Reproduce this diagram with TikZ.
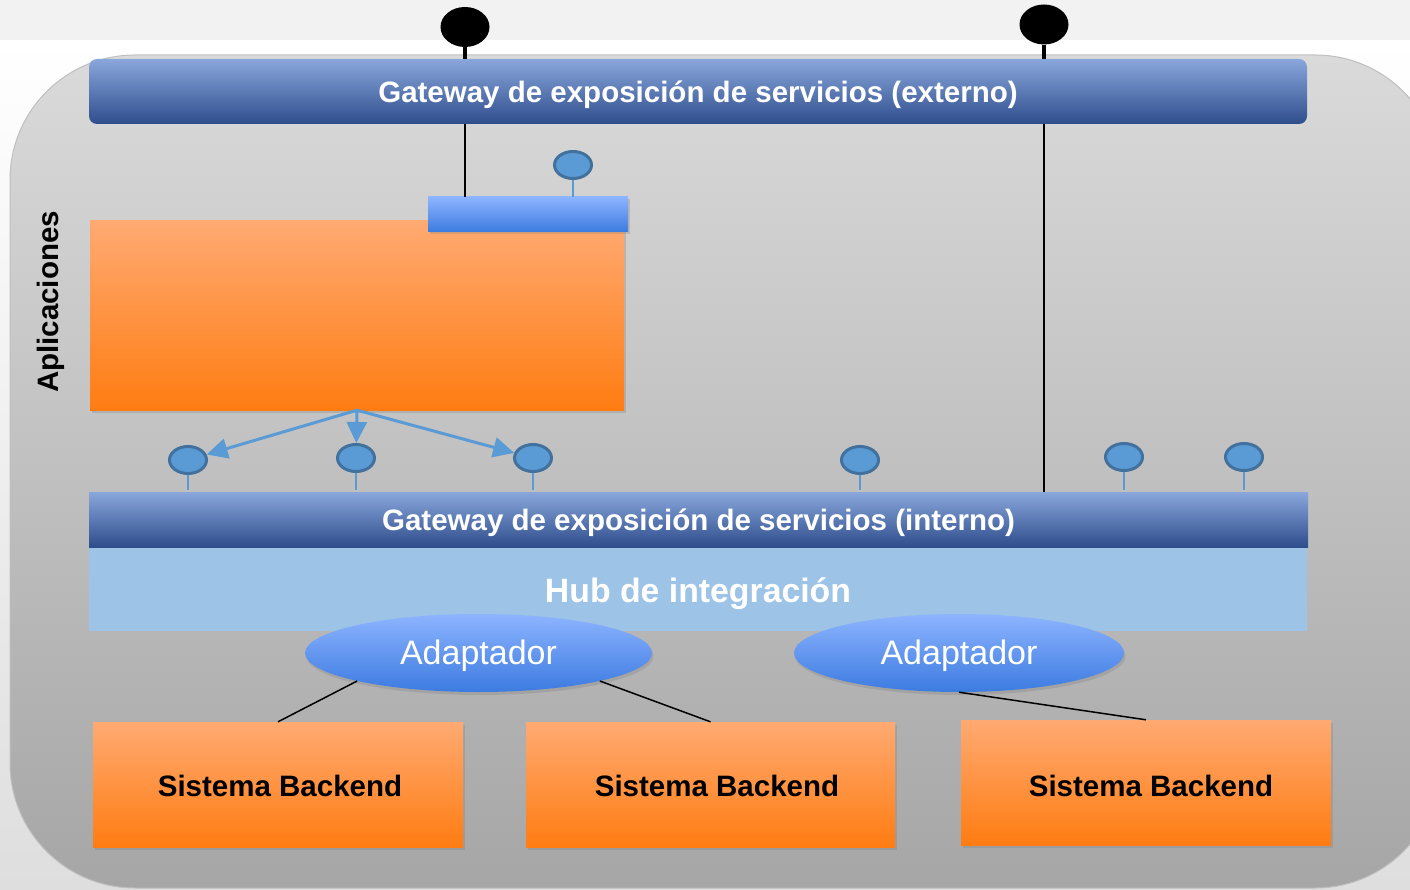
\documentclass[tikz,border=0pt]{standalone}
\usepackage{fontspec}
\setmainfont{Liberation Sans}
\usetikzlibrary{shapes.geometric,arrows.meta,shadows}

\definecolor{bandgray}{HTML}{F2F2F2}
\definecolor{pagelow}{HTML}{DEDEDE}
\definecolor{frameTop}{HTML}{DADADA}
\definecolor{frameMid}{HTML}{CECECE}
\definecolor{frameBot}{HTML}{A6A6A6}
\definecolor{gwTop}{HTML}{8AA7DC}
\definecolor{gwMid}{HTML}{4874C4}
\definecolor{gwBot}{HTML}{2E4D8C}
\definecolor{hubfill}{HTML}{9DC3E6}
\definecolor{orTop}{HTML}{FFAA72}
\definecolor{orBot}{HTML}{FF7C12}
\definecolor{ltTop}{HTML}{8DB4FF}
\definecolor{ltBot}{HTML}{3C7BE0}
\definecolor{pinfill}{HTML}{5B9BD5}
\definecolor{pinline}{HTML}{41719C}

\tikzset{
  gateway/.style={rectangle, inner sep=0pt, top color=gwTop, middle color=gwMid,
    bottom color=gwBot, text=white, font=\bfseries\fontsize{29.5}{32}\selectfont,
    text depth=0pt},
  orangebox/.style={rectangle, inner sep=0pt, top color=orTop, bottom color=orBot,
    drop shadow={shadow xshift=1.5pt, shadow yshift=-2.5pt, opacity=0.3}},
  backend/.style={orangebox, minimum width=370, minimum height=125,
    font=\bfseries\fontsize{29.5}{32}\selectfont, text depth=0pt, text height=24pt},
  adapter/.style={ellipse, inner sep=0pt, minimum height=78, top color=ltTop,
    bottom color=ltBot, text=white, font=\fontsize{34}{38}\selectfont,
    text depth=0pt, text height=22pt,
    drop shadow={shadow xshift=1.5pt, shadow yshift=-3pt, opacity=0.3}},
  pin/.style={ellipse, inner sep=0pt, minimum width=37, minimum height=27,
    fill=pinfill, draw=pinline, line width=3pt},
  pinstem/.style={draw=pinfill, line width=1.5pt},
  extpin/.style={ellipse, inner sep=0pt, minimum width=49, minimum height=40, fill=black},
  link/.style={draw=black, line width=1.5pt},
  call/.style={draw=pinfill, line width=3pt, -{Triangle[length=21pt,width=20pt]}}
}

\begin{document}
\begin{tikzpicture}[x=1pt,y=-1pt]
\useasboundingbox (0,0) rectangle (1410,890);
\clip (0,0) rectangle (1410,890);

% page background
\shade[top color=white, bottom color=pagelow] (0,40) rectangle (1410,890);
\fill[bandgray] (0,0) rectangle (1410,40);

% application frame
\shade[rounded corners=125, top color=frameTop, middle color=frameMid,
  bottom color=frameBot, draw=black!25, line width=1pt]
  (10,55) rectangle (1440,888);

\node[rotate=90, font=\bfseries\fontsize{29.5}{32}\selectfont] (lbl) at (51,302) {Aplicaciones};

% external gateway
\node[gateway, text height=23pt, rounded corners=8, minimum width=1218, minimum height=65]
  (egw) at (698,91.5) {Gateway de exposición de servicios (externo)};

\node[extpin] (xp1) at (465,27) {};
\node[extpin] (xp2) at (1044,24.5) {};
\draw[line width=4pt] (xp1.south) -- (xp1 |- egw.north);
\draw[line width=4pt] (xp2.south) -- (xp2 |- egw.north);

% application
\node[orangebox, minimum width=534, minimum height=189] (app) at (357,315.5) {};
\node[rectangle, inner sep=0pt, minimum width=200, minimum height=35, top color=ltTop,
  bottom color=ltBot, drop shadow={shadow xshift=1.5pt, shadow yshift=-2.5pt, opacity=0.3}]
  (ibar) at (528,214.5) {};
\node[pin] (tp) at (573,165) {};
\draw[pinstem] (tp.south) -- (tp |- ibar.north);

% internal gateway and hub
\node[rectangle, inner sep=0pt, fill=hubfill, minimum width=1218, minimum height=84,
  text=white, font=\bfseries\fontsize{33.8}{36}\selectfont, text depth=0pt, text height=26pt]
  (hub) at (698,589) {Hub de integración};
\node[gateway, text height=21pt, minimum width=1219, minimum height=55] (igw) at (698.5,519.5)
  {Gateway de exposición de servicios (interno)};

\draw[link] (xp1 |- egw.south) -- (xp1 |- ibar.north);
\draw[link] (xp2 |- egw.south) -- (xp2 |- igw.north);

% service pins on the internal gateway
\node[pin] (p1) at (188,460) {};
\node[pin] (p2) at (356,458) {};
\node[pin] (p3) at (533,458) {};
\node[pin] (p4) at (860,460) {};
\node[pin] (p5) at (1124,457) {};
\node[pin] (p6) at (1244,457) {};
\foreach \p in {p1,p2,p3,p4,p5,p6}
  \draw[pinstem] (\p.south) -- ([yshift=2pt]\p |- igw.north);

\draw[call] (app.south) -- (p1);
\draw[call] (app.south) -- (p2);
\draw[call] (app.south) -- (p3);

% adapters and backends
\node[backend] (bk1) at (278,784.5) {\hspace*{4pt}Sistema Backend};
\node[backend, minimum width=369] (bk2) at (710.5,784.5) {\hspace*{13pt}Sistema Backend};
\node[backend, text height=27pt] (bk3) at (1146,782.5) {\hspace*{10pt}Sistema Backend};

\node[adapter, minimum width=347] (ad1) at (478.5,653) {Adaptador};
\node[adapter, minimum width=330] (ad2) at (959,653) {Adaptador};

\draw[line width=1.5pt] (ad1.193) -- (bk1.north);
\draw[line width=1.5pt] (ad1.347) -- (bk2.north);
\draw[line width=1.5pt] (ad2.south) -- (bk3.north);
\end{tikzpicture}
\end{document}
